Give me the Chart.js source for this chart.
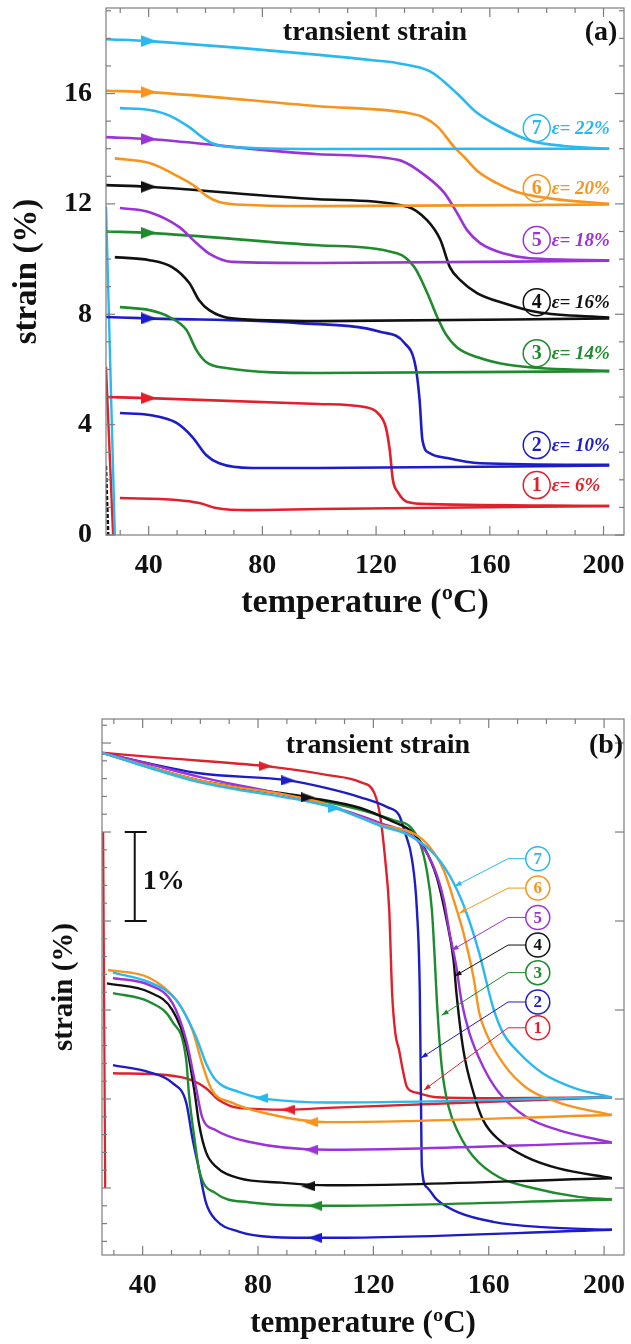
<!DOCTYPE html>
<html>
<head>
<meta charset="utf-8">
<script src="https://cdn.jsdelivr.net/npm/chart.js@4.4.1/dist/chart.umd.min.js"></script>
<style>
  html, body { margin: 0; padding: 0; background: #fff; }
  #wrapA { position: absolute; left: 0; top: 0; width: 631px; height: 650px; }
  #wrapB { position: absolute; left: 0; top: 650px; width: 631px; height: 694px; }
</style>
</head>
<body>
<div id="wrapA"><canvas id="chartA"></canvas></div>
<div id="wrapB"><canvas id="chartB"></canvas></div>
<script>
const FONT = "'Liberation Serif', 'Times New Roman', serif";

// ---------- shared ----------
const curveNames = ['1', '2', '3', '4', '5', '6', '7'];
const strainLabels = ['6%', '10%', '14%', '16%', '18%', '20%', '22%'];
const colors = ['#e0202a', '#1c1cc8', '#1e8b2c', '#111111', '#9b33d6', '#f7941d', '#29b8f0'];
const xMajor = [40, 80, 120, 160, 200];
const xMinor = [30, 50, 60, 70, 90, 100, 110, 130, 140, 150, 170, 180, 190];

// ---------- panel (a): [temperature °C, strain %] ----------
const heatA1 = [[25,5.0],[40,4.96],[99.7,4.75],[116,4.64],[120.6,4.42],[123.4,3.91],[124.8,3.08],[125.9,2.0],[127.6,1.56],[131,1.2],[139,1.12],[202,1.05]];
const coolA1 = [[29.9,1.34],[49.8,1.27],[57.8,1.16],[63.7,0.98],[75.3,0.9],[99.7,0.94],[202,1.05]];
const heatA2 = [[25,7.9],[40,7.85],[92.7,7.68],[121.7,7.36],[130,6.96],[133.9,6.1],[135.3,4.9],[136.3,3.44],[138.8,2.97],[145,2.79],[156.6,2.6],[202,2.54]];
const coolA2 = [[29.9,4.42],[40.3,4.35],[49.8,4.06],[55.4,3.55],[60.2,2.9],[64.8,2.6],[76.3,2.43],[99.7,2.43],[202,2.52]];
const heatA3 = [[25,11.0],[40,10.95],[99.7,10.5],[127.6,10.2],[133.5,9.7],[138,8.77],[141.5,7.9],[144.4,7.3],[148.5,6.8],[155.5,6.45],[167,6.16],[202,5.94]];
const coolA3 = [[29.9,8.26],[40.3,8.15],[47.3,7.9],[53.3,7.43],[56.8,6.7],[60.2,6.27],[67.2,6.05],[99.7,5.87],[202,5.94]];
const heatA4 = [[25,12.68],[40,12.62],[99.7,12.17],[131,11.9],[138,11.4],[142.6,10.7],[146,9.7],[149.6,9.24],[155.5,8.77],[165,8.4],[176.5,8.08],[202,7.88]];
const coolA4 = [[28.1,10.07],[40.3,9.96],[48.4,9.7],[54.3,9.13],[57.8,8.5],[61.3,8.15],[69.3,7.85],[99.7,7.75],[202,7.85]];
const heatA5 = [[25,14.42],[40,14.35],[99.7,13.8],[127.6,13.6],[138,12.97],[144,12.4],[148.5,11.67],[152,11.05],[156.6,10.58],[165,10.2],[174,10.03],[202,9.96]];
const coolA5 = [[29.9,11.85],[40.3,11.7],[50.8,11.16],[56.8,10.58],[61.3,10.2],[69.3,9.9],[99.7,9.86],[202,9.94]];
const heatA6 = [[25,16.1],[40,16.05],[99.7,15.54],[131,15.3],[136.5,15.15],[141.6,14.8],[147.5,14.06],[151,13.7],[155.5,13.2],[162.5,12.75],[169.5,12.43],[181,12.2],[202,12.0]];
const coolA6 = [[28.1,13.65],[40.3,13.48],[50.8,12.97],[56.8,12.6],[60.2,12.3],[64.8,12.07],[75.3,11.96],[99.7,11.92],[202,11.98]];
const heatA7 = [[25,17.97],[40,17.9],[100,17.4],[119.6,17.2],[127.6,17.1],[139,16.8],[148.5,16.0],[155.5,15.3],[162.5,14.85],[174,14.3],[186,14.1],[202,14.0]];
const coolA7 = [[29.9,15.47],[40.3,15.4],[47.3,15.2],[54.3,14.78],[58.8,14.42],[62.3,14.2],[69.3,14.06],[99.7,13.99],[202,14.0]];
// loading lines at room temperature: [curve index, points]
const loadA = [[6, [[25,11.9],[28.1,0]]], [0, [[25,6.1],[27.5,0]]], [3, [[25,2.5],[25.8,0]]]];
// heating arrows: [T, strain, curve index]
const arrowsA = [[40,4.96,0],[40,7.85,1],[40,10.95,2],[40,12.62,3],[40,14.35,4],[40,16.05,5],[40,17.9,6]];
const yMajorA = [0, 4, 8, 12, 16];
const yMinorA = [1,2,3,5,6,7,9,10,11,13,14,15,17,18,19];
const labelTA = 176.5;
const labelVA = [1.81, 3.26, 6.59, 8.44, 10.69, 12.57, 14.75];

// ---------- panel (b): [temperature °C, strain (relative, 1 unit = 1%)] ----------
const heatB1 = [[25.9,5.89],[48.2,5.83],[82.6,5.74],[104.2,5.64],[115.5,5.56],[120.3,5.44],[122.4,5.17],[124.1,4.69],[125.5,4.12],[126.5,3.19],[127.6,2.74],[128.9,2.55],[130.0,2.36],[131.7,2.13],[135.1,2.07],[142.0,2.02],[161.5,2.01],[202.7,2.02]];
const coolB1 = [[29.7,2.29],[48.2,2.27],[57.2,2.21],[62.0,2.12],[66.4,1.99],[73.3,1.90],[90.5,1.88],[104.2,1.90],[202.7,2.02]];
const heatB2 = [[25.9,5.89],[59.6,5.66],[90.5,5.58],[104.2,5.49],[115.5,5.39],[124.8,5.28],[128.9,5.19],[131.0,4.99],[133.4,4.69],[135.1,4.12],[136.1,3.19],[136.5,1.99],[136.8,1.24],[138.5,1.01],[142.0,0.87],[149.9,0.72],[161.5,0.62],[178.7,0.56],[202.7,0.53]];
const coolB2 = [[29.7,2.38],[42.4,2.30],[50.3,2.18],[55.1,1.96],[57.2,1.57],[59.6,1.20],[62.0,0.83],[65.4,0.64],[73.3,0.51],[84.6,0.45],[104.2,0.44],[202.7,0.53]];
const heatB3 = [[25.9,5.89],[59.6,5.57],[97.3,5.38],[115.5,5.25],[127.2,5.13],[132.7,5.06],[136.1,4.88],[138.5,4.57],[140.3,4.12],[141.3,3.56],[142.0,3.11],[143.7,2.36],[146.1,1.91],[149.5,1.62],[154.7,1.35],[163.6,1.12],[175.3,1.00],[191.1,0.90],[202.7,0.87]];
const coolB3 = [[29.7,3.19],[42.4,3.09],[50.3,2.87],[55.1,2.44],[56.1,2.04],[57.9,1.57],[59.6,1.20],[65.4,0.94],[76.7,0.84],[104.2,0.80],[202.7,0.87]];
const heatB4 = [[25.9,5.89],[59.6,5.58],[97.3,5.39],[115.5,5.27],[127.2,5.11],[132.7,5.02],[137.5,4.83],[142.0,4.49],[145.4,4.01],[147.8,3.56],[148.8,3.19],[151.2,2.55],[154.7,2.07],[158.1,1.76],[163.6,1.54],[172.9,1.35],[184.2,1.22],[202.7,1.11]];
const coolB4 = [[27.6,3.30],[42.4,3.20],[50.3,3.00],[55.1,2.61],[57.9,2.10],[59.6,1.71],[62.0,1.40],[65.4,1.24],[73.3,1.11],[88.1,1.06],[104.2,1.03],[202.7,1.11]];
const heatB5 = [[25.9,5.89],[39.0,5.79],[59.6,5.62],[100.8,5.33],[122.4,5.10],[135.1,4.91],[140.9,4.61],[144.4,4.24],[146.4,3.87],[148.8,3.48],[150.5,3.11],[153.3,2.74],[158.1,2.36],[163.6,2.07],[172.9,1.80],[184.2,1.65],[202.7,1.51]];
const coolB5 = [[29.7,3.36],[42.4,3.28],[50.3,3.08],[55.1,2.66],[58.5,2.13],[60.6,1.80],[65.4,1.65],[76.7,1.52],[104.2,1.43],[202.7,1.51]];
const heatB6 = [[25.9,5.89],[59.6,5.58],[100.8,5.34],[122.4,5.08],[134.1,4.98],[139.6,4.83],[144.4,4.57],[147.8,4.24],[151.2,3.87],[154.7,3.37],[156.7,2.97],[159.1,2.74],[165.0,2.40],[172.9,2.13],[184.2,1.96],[202.7,1.82]];
const coolB6 = [[28.0,3.45],[42.4,3.36],[51.7,3.11],[57.2,2.78],[60.6,2.40],[64.0,2.10],[70.9,1.96],[82.6,1.84],[104.2,1.74],[202.7,1.82]];
const heatB7 = [[25.9,5.89],[59.6,5.56],[106.6,5.27],[122.4,5.07],[132.7,4.96],[142.0,4.72],[147.8,4.43],[152.3,4.09],[156.7,3.64],[161.5,3.03],[165.0,2.74],[170.5,2.52],[178.7,2.29],[190.0,2.12],[202.7,2.02]];
const coolB7 = [[29.7,3.42],[42.4,3.31],[51.7,3.11],[58.5,2.70],[62.0,2.40],[65.4,2.21],[73.3,2.08],[81.2,2.01],[93.9,1.97],[104.2,1.96],[202.7,2.02]];
const loadB = [[0, [[26.3,5.0],[27.0,1.0]]]];
const arrowsHeatB = [[82.6,5.74,0],[90.5,5.58,1],[97.3,5.39,3],[106.6,5.27,6]];
const arrowsCoolB = [[81.2,2.01,6],[90.5,1.88,0],[98.4,1.74,5],[98.4,1.43,4],[97.3,1.02,3],[99.7,0.80,2],[99.7,0.44,1]];
const yMajorB = [1, 2, 3, 4, 5, 6];
const yMinorB = [0.4,0.6,0.8,1.2,1.4,1.6,1.8,2.2,2.4,2.6,2.8,3.2,3.4,3.6,3.8,4.2,4.4,4.6,4.8,5.2,5.4,5.6,5.8,6.2];
const labelTB = 177;
const elbowTB = 166.7;
const labelVB = [2.80, 3.09, 3.42, 3.73, 4.04, 4.37, 4.70];
const tipsB = [[137.5,2.10],[136.5,2.46],[143.7,2.94],[148.2,3.38],[147.1,3.67],[149.9,4.09],[148.2,4.39]];
const scaleBar = [37.25, 4.0, 5.0]; // T, from, to

// ---------- helpers ----------
const arrowCache = {};
function arrowImg(color, len, wid) {
  const key = color + len + wid;
  if (arrowCache[key]) return arrowCache[key];
  const c = document.createElement('canvas');
  c.width = len; c.height = wid;
  const g = c.getContext('2d');
  g.fillStyle = color;
  g.beginPath();
  g.moveTo(len, wid / 2);
  g.lineTo(0, 0);
  g.lineTo(0, wid);
  g.closePath();
  g.fill();
  arrowCache[key] = c;
  return c;
}

function lineSet(points, color, width) {
  return {
    data: points,
    showLine: true,
    borderColor: color,
    borderWidth: width,
    pointRadius: 0,
    cubicInterpolationMode: 'monotone',
    order: 1
  };
}

function arrowSet(list, dir, len, wid) {
  return {
    data: list.map(a => ({ x: a[0], y: a[1] })),
    showLine: false,
    pointRadius: 6,
    pointStyle: ctx => arrowImg(colors[list[ctx.dataIndex][2]], len, wid),
    pointRotation: dir === 'left' ? 180 : 0,
    order: -1
  };
}

// frame + inward tick marks
const frameTicks = {
  id: 'frameTicks',
  afterDatasetsDraw(chart, args, o) {
    const { ctx, chartArea: a, scales: { x, y } } = chart;
    ctx.save();
    ctx.strokeStyle = '#7d7d7d';
    ctx.lineWidth = 1.2;
    ctx.strokeRect(a.left, a.top, a.right - a.left, a.bottom - a.top);
    const tick = (px, py, dx, dy) => {
      ctx.beginPath(); ctx.moveTo(px, py); ctx.lineTo(px + dx, py + dy); ctx.stroke();
    };
    o.xMajor.forEach(v => { const p = x.getPixelForValue(v); tick(p, a.bottom, 0, -9); tick(p, a.top, 0, 9); });
    o.xMinor.forEach(v => { const p = x.getPixelForValue(v); tick(p, a.bottom, 0, -5); tick(p, a.top, 0, 5); });
    o.yMajor.forEach(v => { const p = y.getPixelForValue(v); tick(a.left, p, 9, 0); tick(a.right, p, -9, 0); });
    o.yMinorL.forEach(v => { const p = y.getPixelForValue(v); tick(a.left, p, 5, 0); });
    o.yMinorR.forEach(v => { const p = y.getPixelForValue(v); tick(a.right, p, -5, 0); });
    ctx.restore();
  }
};

function circled(ctx, cx, cy, r, color, txt, size) {
  ctx.beginPath();
  ctx.arc(cx, cy, r, 0, Math.PI * 2);
  ctx.strokeStyle = color;
  ctx.lineWidth = 1.5;
  ctx.stroke();
  ctx.fillStyle = color;
  ctx.font = 'bold ' + size + 'px ' + FONT;
  ctx.textAlign = 'center';
  ctx.textBaseline = 'middle';
  ctx.fillText(txt, cx, cy + 1);
}

const notesA = {
  id: 'notesA',
  afterDraw(chart) {
    const { ctx, chartArea: a, scales: { x, y } } = chart;
    ctx.save();
    ctx.fillStyle = '#111';
    ctx.font = 'bold 28px ' + FONT;
    ctx.textBaseline = 'middle';
    ctx.textAlign = 'center';
    ctx.fillText('transient strain', 375, a.top + 25);
    ctx.fillText('(a)', 601, a.top + 25);
    curveNames.forEach((n, i) => {
      const cx = x.getPixelForValue(labelTA), cy = y.getPixelForValue(labelVA[i]);
      circled(ctx, cx, cy, 13.5, colors[i], n, 20);
      ctx.font = 'italic bold 19px ' + FONT;
      ctx.textAlign = 'left';
      ctx.fillText('\u03b5= ' + strainLabels[i], cx + 15, cy + 1);
    });
    ctx.restore();
  }
};

const notesB = {
  id: 'notesB',
  afterDraw(chart) {
    const { ctx, chartArea: a, scales: { x, y } } = chart;
    ctx.save();
    ctx.fillStyle = '#111';
    ctx.font = 'bold 28px ' + FONT;
    ctx.textBaseline = 'middle';
    ctx.textAlign = 'center';
    ctx.fillText('transient strain', 378, a.top + 27);
    ctx.fillText('(b)', 606, a.top + 27);
    // 1% scale bar
    const bx = x.getPixelForValue(scaleBar[0]);
    const b0 = y.getPixelForValue(scaleBar[1]), b1 = y.getPixelForValue(scaleBar[2]);
    ctx.strokeStyle = '#111';
    ctx.lineWidth = 2;
    ctx.beginPath();
    ctx.moveTo(bx, b0); ctx.lineTo(bx, b1);
    ctx.moveTo(bx - 10, b0); ctx.lineTo(bx + 12, b0);
    ctx.moveTo(bx - 10, b1); ctx.lineTo(bx + 12, b1);
    ctx.stroke();
    ctx.textAlign = 'left';
    ctx.fillText('1%', bx + 8, (b0 + b1) / 2 + 5);
    // numbered leaders
    curveNames.forEach((n, i) => {
      const cx = x.getPixelForValue(labelTB), cy = y.getPixelForValue(labelVB[i]);
      const ex = x.getPixelForValue(elbowTB);
      const tx = x.getPixelForValue(tipsB[i][0]), ty = y.getPixelForValue(tipsB[i][1]);
      ctx.strokeStyle = colors[i];
      ctx.fillStyle = colors[i];
      ctx.lineWidth = 1;
      ctx.beginPath();
      ctx.moveTo(cx - 12, cy); ctx.lineTo(ex, cy); ctx.lineTo(tx, ty);
      ctx.stroke();
      const ang = Math.atan2(ty - cy, tx - ex);
      ctx.beginPath();
      ctx.moveTo(tx, ty);
      ctx.lineTo(tx - 7 * Math.cos(ang) + 2.5 * Math.sin(ang), ty - 7 * Math.sin(ang) - 2.5 * Math.cos(ang));
      ctx.lineTo(tx - 7 * Math.cos(ang) - 2.5 * Math.sin(ang), ty - 7 * Math.sin(ang) + 2.5 * Math.cos(ang));
      ctx.closePath();
      ctx.fill();
      circled(ctx, cx, cy, 12, colors[i], n, 17);
    });
    ctx.restore();
  }
};

// drop the label overhang padding so the plot frame sits where the layout says
function noOverhang(s) {
  s.paddingTop = 0; s.paddingBottom = 0; s.paddingLeft = 0; s.paddingRight = 0;
}

function axisX(min, max, tickPad, titleSize, titlePad, height) {
  return {
    type: 'linear', min, max,
    afterBuildTicks: s => { s.ticks = xMajor.map(v => ({ value: v })); },
    afterFit: s => { s.height = height; noOverhang(s); },
    grid: { display: false, drawTicks: false },
    border: { display: false },
    ticks: { color: '#111', padding: tickPad, font: { family: FONT, size: 28, weight: 'bold' } },
    title: { display: true, text: 'temperature (\u00baC)', color: '#111',
      font: { family: FONT, size: titleSize, weight: 'bold' }, padding: { top: 0, bottom: titlePad } }
  };
}

function axisY(min, max, major, showLabels, width, titleSize, titlePad) {
  return {
    type: 'linear', min, max,
    afterBuildTicks: s => { s.ticks = major.map(v => ({ value: v })); },
    afterFit: s => { s.width = width; noOverhang(s); },
    grid: { display: false, drawTicks: false },
    border: { display: false },
    ticks: { display: showLabels, color: '#111', padding: 14, font: { family: FONT, size: 28, weight: 'bold' } },
    title: { display: true, text: 'strain (%)', color: '#111',
      font: { family: FONT, size: titleSize, weight: 'bold' }, padding: { top: titlePad, bottom: 0 } }
  };
}

const baseOpts = {
  responsive: true,
  maintainAspectRatio: false,
  animation: false,
  devicePixelRatio: 1,
  events: [],
  plugins: { legend: { display: false }, tooltip: { enabled: false } }
};

// ---------- chart (a) ----------
const heatA = [heatA1, heatA2, heatA3, heatA4, heatA5, heatA6, heatA7];
const coolA = [coolA1, coolA2, coolA3, coolA4, coolA5, coolA6, coolA7];
const dsA = [arrowSet(arrowsA, 'right', 16, 12)];
for (let i = 6; i >= 0; i--) {
  dsA.push(lineSet(heatA[i], colors[i], 2.6));
  dsA.push(lineSet(coolA[i], colors[i], 2.6));
}
loadA.forEach(l => {
  const d = lineSet(l[1], colors[l[0]], 2.4);
  if (l[0] === 3) d.borderDash = [4, 2];
  dsA.push(d);
});

new Chart(document.getElementById('chartA'), {
  type: 'scatter',
  data: { datasets: dsA },
  options: Object.assign({}, baseOpts, {
    layout: { padding: { top: 8, right: 3, left: 0, bottom: 0 } },
    scales: {
      x: axisX(25, 207.2, 14, 34, 26, 115),
      y: axisY(0, 19.1, yMajorA, true, 106, 33, 8)
    },
    plugins: Object.assign({}, baseOpts.plugins, {
      frameTicks: { xMajor, xMinor, yMajor: yMajorA, yMinorL: yMinorA, yMinorR: yMinorA }
    })
  }),
  plugins: [frameTicks, notesA]
});

// ---------- chart (b) ----------
const heatB = [heatB1, heatB2, heatB3, heatB4, heatB5, heatB6, heatB7];
const coolB = [coolB1, coolB2, coolB3, coolB4, coolB5, coolB6, coolB7];
const dsB = [arrowSet(arrowsHeatB, 'right', 14, 10), arrowSet(arrowsCoolB, 'left', 14, 10)];
for (let i = 6; i >= 0; i--) {
  dsB.push(lineSet(heatB[i], colors[i], 2.4));
  dsB.push(lineSet(coolB[i], colors[i], 2.4));
}
loadB.forEach(l => dsB.push(lineSet(l[1], colors[l[0]], 2.2)));

new Chart(document.getElementById('chartB'), {
  type: 'scatter',
  data: { datasets: dsB },
  options: Object.assign({}, baseOpts, {
    layout: { padding: { top: 69, right: 2, left: 0, bottom: 0 } },
    scales: {
      x: axisX(25.9, 206.9, 14, 31, 1, 89),
      y: axisY(0.247, 6.27, yMajorB, false, 102, 29, 47)
    },
    plugins: Object.assign({}, baseOpts.plugins, {
      frameTicks: { xMajor, xMinor, yMajor: yMajorB, yMinorL: yMinorB, yMinorR: [] }
    })
  }),
  plugins: [frameTicks, notesB]
});
</script>
</body>
</html>
